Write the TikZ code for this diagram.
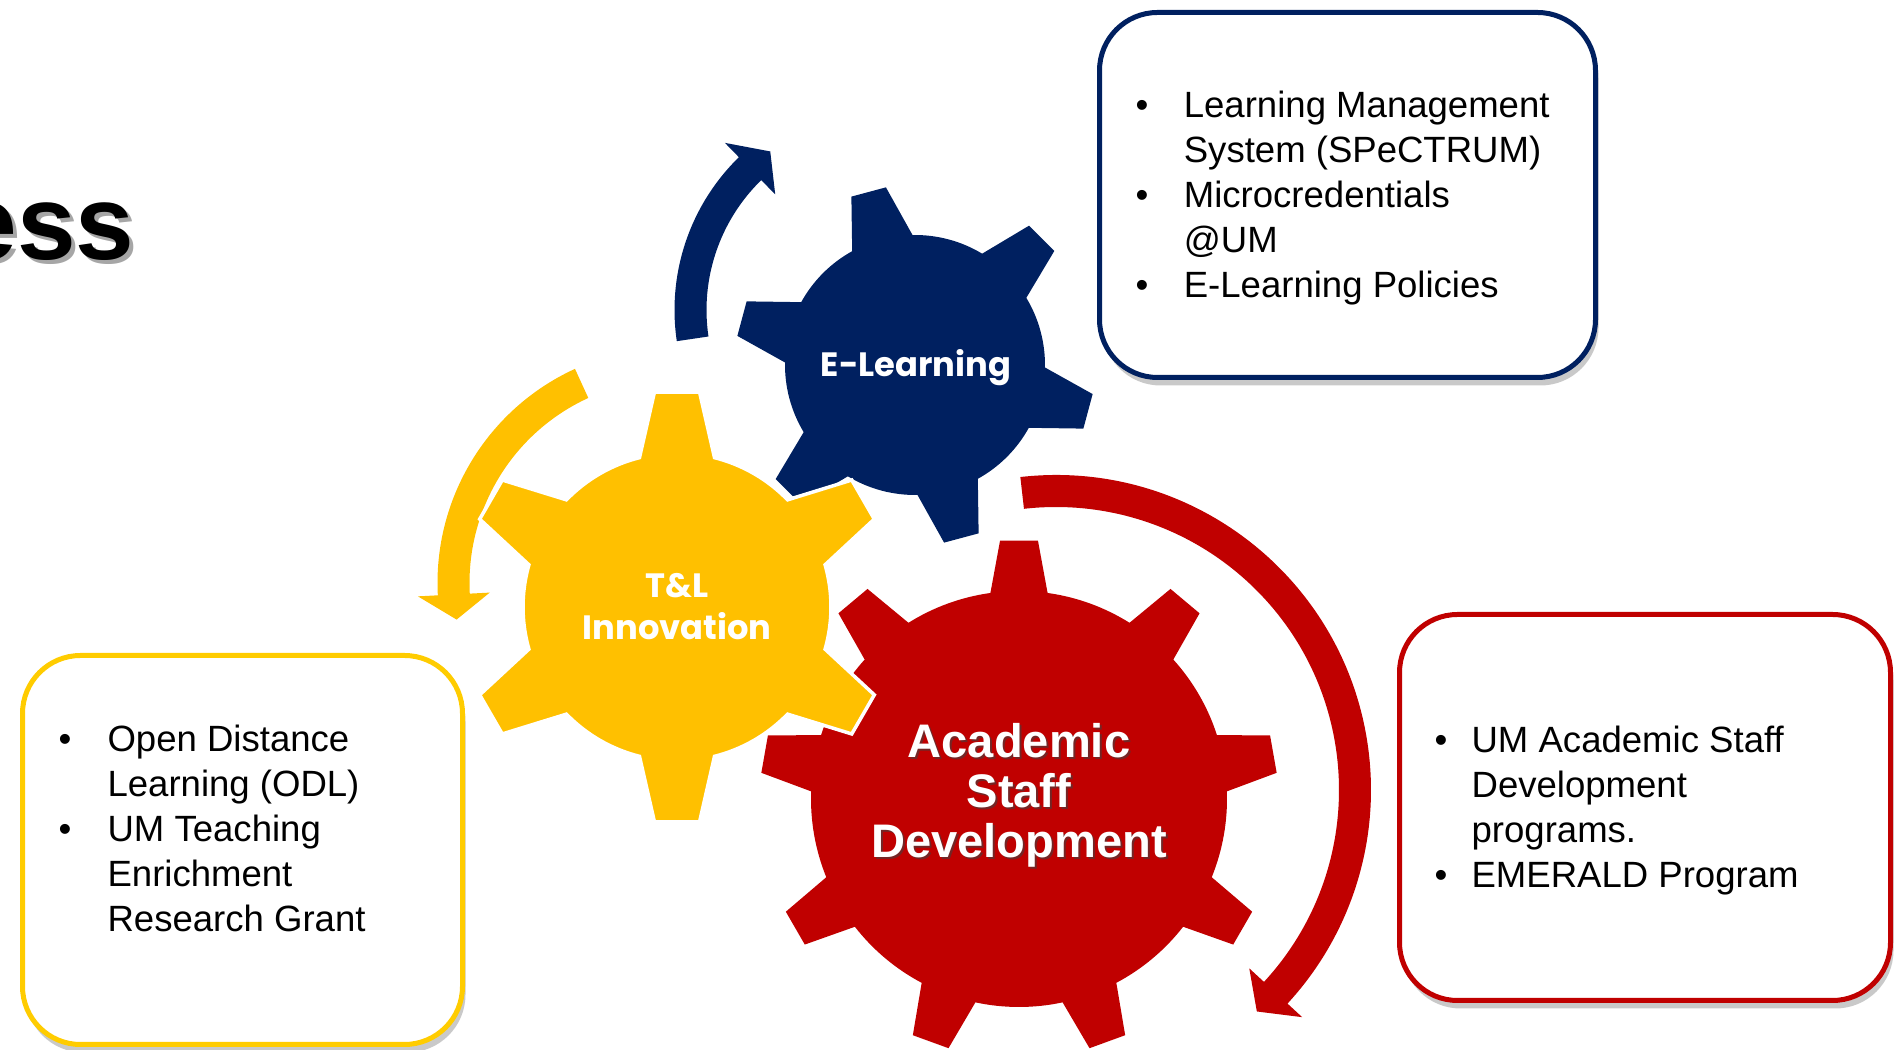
\documentclass[tikz,border=0pt]{standalone}
\usepackage{fontspec}
\setmainfont{Liberation Sans}
\newfontfamily\gearfont{Poppins}
\usepackage{tikz}
\usetikzlibrary{calc,shadows}

\definecolor{umnavy}{RGB}{0,32,96}
\definecolor{umgold}{RGB}{255,192,0}
\definecolor{umred}{RGB}{192,0,0}
\definecolor{umyellow}{RGB}{255,204,0}

% gear: centre, teeth, first tooth angle, body radius, tip radius, base half angle, tip half angle, style
\newcommand{\drawgear}[8]{%
  \path[#8, shift={#1}] ({#3-#6}:#4)
    \foreach \k in {1,...,#2}{
      -- ({#3+(\k-1)*360/#2-#6}:#4)
      -- ({#3+(\k-1)*360/#2-#7}:#5)
      -- ({#3+(\k-1)*360/#2+#7}:#5)
      -- ({#3+(\k-1)*360/#2+#6}:#4)
      arc[start angle={#3+(\k-1)*360/#2+#6}, end angle={#3+\k*360/#2-#6}, radius=#4]
    } -- cycle;}

% curved arrow: centre, radius, start angle, end angle, tip angle, colour
\newcommand{\circarrow}[6]{%
  \fill[#6, shift={#1}] ({#3}:{#2+16}) arc[start angle={#3}, end angle={#4}, radius={#2+16}]
    -- ({#4}:{#2+36}) -- ({#5}:{#2}) -- ({#4}:{#2-36}) -- ({#4}:{#2-16})
    arc[start angle={#4}, end angle={#3}, radius={#2-16}] -- cycle;}

\begin{document}
\begin{tikzpicture}[x=0.1mm, y=0.1mm,
    infobox/.style={rectangle, rounded corners=5.8mm, line width=0.5mm, fill=white, inner sep=0pt,
      drop shadow={shadow xshift=0.3mm, shadow yshift=-0.8mm, opacity=0.3, fill=black!70}},
    bullets/.style={anchor=base west, inner sep=0pt, font=\fontsize{10.4}{12.8}\selectfont},
    gearlabel/.style={anchor=base, inner sep=0pt, text=white, font=\gearfont\bfseries\fontsize{9.6}{11.7}\selectfont},
    asdlabel/.style={anchor=base, inner sep=0pt, font=\bfseries\fontsize{13.4}{14.2}\selectfont}]

    \useasboundingbox (0,0) rectangle (1903,1050);
    \clip (0,0) rectangle (1903,1050);

    % Title remnant
    \node[anchor=base east, inner sep=0pt, font=\bfseries\fontsize{30}{36}\selectfont, text=black!35] (titleshadow) at (139,786) {ess};
    \node[anchor=base east, inner sep=0pt, font=\bfseries\fontsize{30}{36}\selectfont] (title) at (135,790) {ess};

    % Info boxes
    \node[infobox, draw=umnavy, minimum width=49.6mm, minimum height=36.5mm] (ebox) at (1347.5,855) {};
    \node[infobox, draw=umyellow, minimum width=44mm, minimum height=38.9mm] (tbox) at (242.5,200) {};
    \node[infobox, draw=umred, minimum width=49.1mm, minimum height=38.6mm] (abox) at (1645,242.5) {};

    % Cycle arrows
    \circarrow{(888,740)}{197.5}{188.4}{134.3}{126.6}{umnavy}
    \circarrow{(673,467)}{219.5}{114.6}{183}{189.6}{umgold}
    \circarrow{(1056,260)}{299}{96.5}{-42.7}{-47.8}{umred}

    % Gears
    \drawgear{(1019,251)}{9}{90}{208}{259}{7.9}{4.2}{fill=umred}
    \drawgear{(915,685)}{6}{45}{130}{180}{13.9}{5.7}{fill=umnavy}
    \drawgear{(677,443)}{6}{30}{154}{216}{14.1}{6.0}{fill=umgold, draw=white, line width=0.35mm}

    % Gear labels
    \node[gearlabel] (elearn) at (916,673) {E-Learning};
    \node[gearlabel] (tnl) at (677,452) {\begin{tabular}[t]{@{}c@{}}T\&L\\Innovation\end{tabular}};
    \node[asdlabel, text=black!75, opacity=0.6] (asdshadow) at (1021,290)
        {\begin{tabular}[t]{@{}c@{}}Academic\\Staff\\Development\end{tabular}};
    \node[asdlabel, text=white] (asd) at (1019,292)
        {\begin{tabular}[t]{@{}c@{}}Academic\\Staff\\Development\end{tabular}};

    % Box texts
    \node[bullets] (elist) at (1135,932) {\begin{tabular}[t]{@{}p{13.7pt}@{}l@{}}
        \textbullet & Learning Management\\ & System (SPeCTRUM)\\
        \textbullet & Microcredentials\\ & @UM\\
        \textbullet & E-Learning Policies\end{tabular}};
    \node[bullets] (tlist) at (58,298) {\begin{tabular}[t]{@{}p{13.9pt}@{}l@{}}
        \textbullet & Open Distance\\ & Learning (ODL)\\
        \textbullet & UM Teaching\\ & Enrichment\\ & Research Grant\end{tabular}};
    \node[bullets] (alist) at (1434,297) {\begin{tabular}[t]{@{}p{10.5pt}@{}l@{}}
        \textbullet & UM Academic Staff\\ & Development\\ & programs.\\
        \textbullet & EMERALD Program\end{tabular}};
\end{tikzpicture}
\end{document}
